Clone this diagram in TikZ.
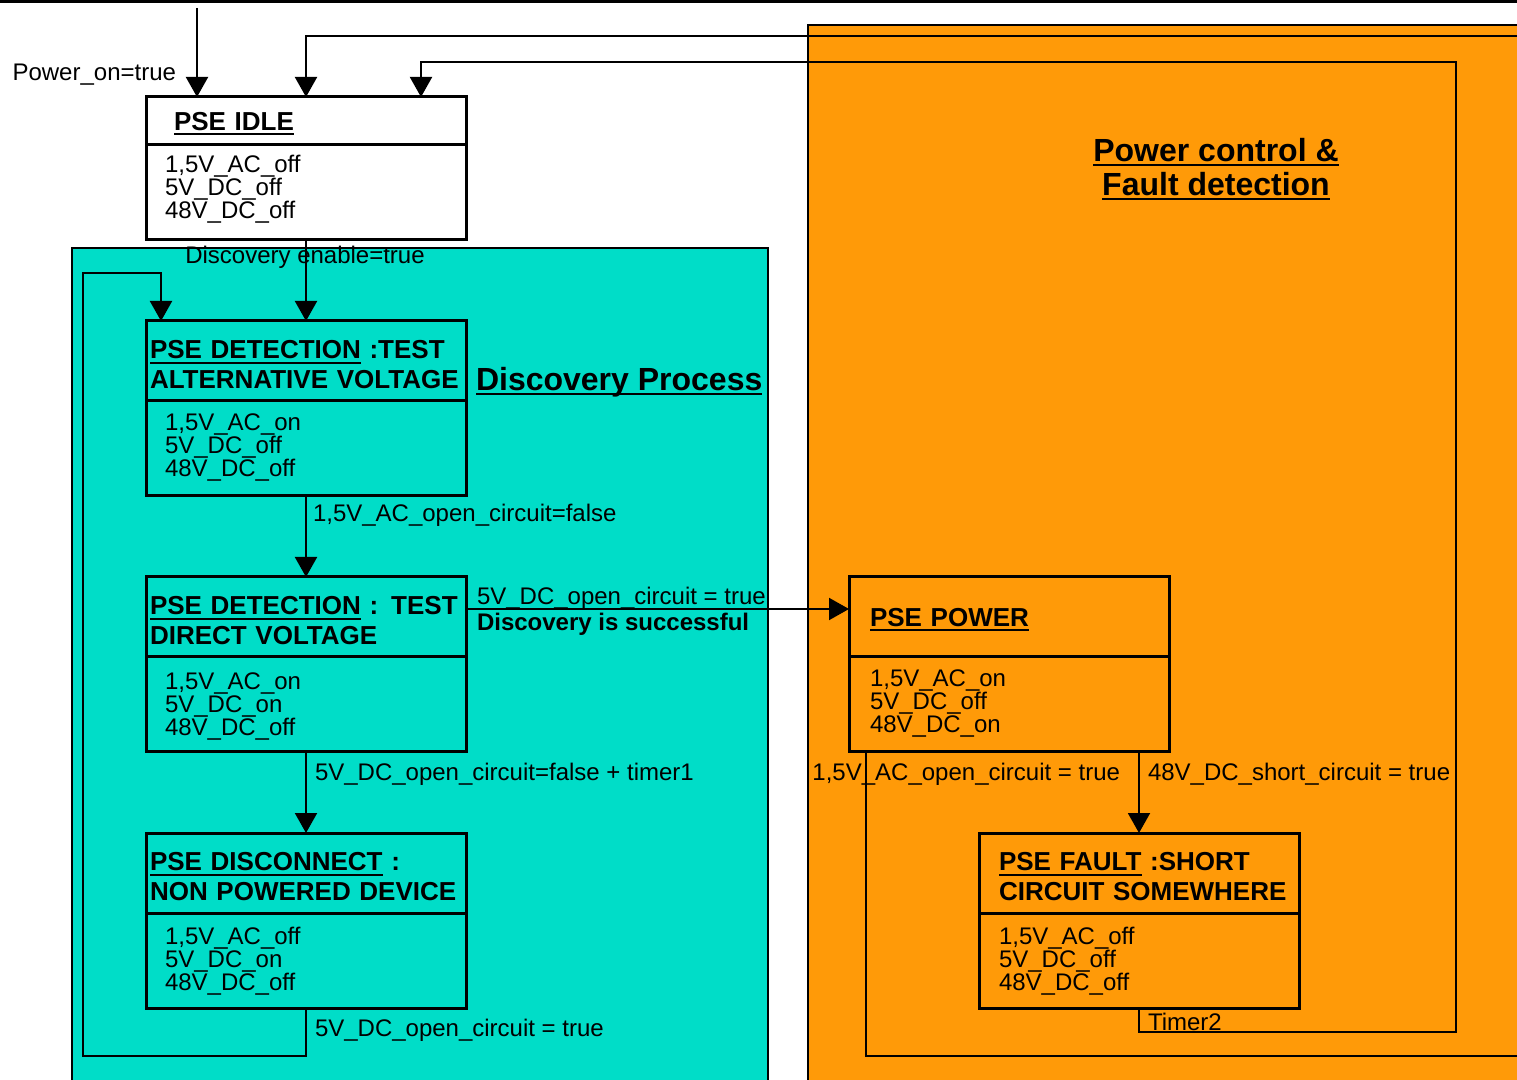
\documentclass[tikz,border=0pt]{standalone}
\usepackage{fontspec}
\setmainfont{Liberation Sans}
\usetikzlibrary{arrows.meta,positioning,calc}
\definecolor{discov}{RGB}{0,221,200}
\definecolor{powctl}{RGB}{255,154,8}
\newsavebox{\ulbox}
\newcommand{\ulin}[1]{\sbox{\ulbox}{#1}\rlap{\rule[-2.3pt]{\wd\ulbox}{0.9pt}}\usebox{\ulbox}}
\begin{document}
\begin{tikzpicture}[x=0.5pt, y=-0.5pt, line width=1pt, >={Triangle[length=10pt,width=11pt]}]
	\tikzset{
		head/.style={draw, rectangle, line width=1.5pt, outer sep=0pt, minimum width=160pt, minimum height=40pt, inner xsep=2pt, text width=156pt, align=left, font=\fontsize{13}{15}\selectfont\bfseries, execute at end node={\vspace{#1}}},
		head/.default=-4pt,
		body/.style={draw, rectangle, line width=1.5pt, outer sep=0pt, minimum width=160pt, minimum height=47.5pt, inner xsep=9.5pt, text width=141pt, align=left, font=\fontsize{12}{11.5}\selectfont, execute at end node={\vspace{#1}}},
		body/.default=4pt,
		lbl/.style={inner sep=0pt, font=\fontsize{12}{14}\selectfont},
		heading/.style={inner sep=0pt, align=center, font=\fontsize{16}{17}\selectfont\bfseries}
	}
	\useasboundingbox (0,0) rectangle (1517,1080);
	% the two areas
	\begin{scope}
		\clip (0,0) rectangle (1517,1080);
		\filldraw[fill=powctl, line width=0.8pt] (808,25) rectangle (1530,1095);
		\filldraw[fill=discov, line width=0.8pt] (72,248) rectangle (768,1095);
	\end{scope}
	\draw[line width=1.2pt] (0,1.5)--(1517,1.5);
	\node[heading] (pctl) at (1216,169) {\ulin{Power control \&}\\\ulin{Fault detection}};
	\node[heading, anchor=west] (dproc) at (475,382) {\ulin{Discovery Process}};
	% states
	\node[head, anchor=north west, inner xsep=14pt, text width=132pt, minimum height=24pt] (idle) at (146,97) {\ulin{PSE IDLE}};
	\node[body=3pt, anchor=north] (idleb) at (idle.south) {1,5V\_AC\_off\\5V\_DC\_off\\48V\_DC\_off};
	\node[head, anchor=north west] (det1) at (146,321) {\ulin{PSE DETECTION} :TEST\\\mbox{ALTERNATIVE VOLTAGE}};
	\node[body=1pt, anchor=north] (det1b) at (det1.south) {1,5V\_AC\_on\\5V\_DC\_off\\48V\_DC\_off};
	\node[head, anchor=north west] (det2) at (146,577) {\ulin{PSE DETECTION} : TEST\\DIRECT VOLTAGE};
	\node[body=-2pt, anchor=north] (det2b) at (det2.south) {1,5V\_AC\_on\\5V\_DC\_on\\48V\_DC\_off};
	\node[head, anchor=north west] (disc) at (146,833) {\ulin{PSE DISCONNECT} :\\\mbox{NON POWERED DEVICE}};
	\node[body=-1pt, anchor=north] (discb) at (disc.south) {1,5V\_AC\_off\\5V\_DC\_on\\48V\_DC\_off};
	\node[head=-7pt, anchor=north west, inner xsep=10.5pt, text width=139pt] (pow) at (849,577) {\ulin{PSE POWER}};
	\node[body=1pt, anchor=north, inner xsep=10.5pt, text width=139pt] (powb) at (pow.south) {1,5V\_AC\_on\\5V\_DC\_off\\48V\_DC\_on};
	\node[head, anchor=north west, inner xsep=10pt, text width=140pt] (fault) at (979,833) {\ulin{PSE FAULT} :SHORT\\\mbox{CIRCUIT SOMEWHERE}};
	\node[body=-1pt, anchor=north, inner xsep=10pt, text width=140pt] (faultb) at (fault.south) {1,5V\_AC\_off\\5V\_DC\_off\\48V\_DC\_off};
	% transitions
	\coordinate (pwr) at (197,8);
	\draw[->] (pwr)--(pwr |- idle.north);
	\node[lbl, anchor=east] (pwrlbl) at (177,75) {Power\_on=true};
	\coordinate (ret1) at (1517,36);
	\draw[->] (ret1) -| (idle.north);
	\coordinate (t2a) at (1456,1032);
	\coordinate (t2b) at (1456,62);
	\coordinate (t2c) at (421,62);
	\draw[->] (faultb.south) |- (t2a)--(t2b)--(t2c)--(t2c |- idle.north);
	\node[lbl, anchor=west] (t2lbl) at (1147,1022) {Timer2};
	\coordinate (ret2) at (1517,1056);
	\coordinate (acoc) at (866,1056);
	\draw (acoc |- powb.south) |- (ret2);
	\node[lbl, anchor=east] (acoclbl) at (1121,774) {1,5V\_AC\_open\_circuit = true};
	\draw[->] (idleb.south)--(det1.north);
	\node[lbl] (enlbl) at (305,257) {Discovery enable=true};
	\coordinate (lp1) at (83,1056);
	\coordinate (lp2) at (161,273);
	\draw[->] (discb.south) |- (lp1) |- (lp2)--(lp2 |- det1.north);
	\node[lbl, anchor=west] (lplbl) at (314,1030) {5V\_DC\_open\_circuit = true};
	\draw[->] (det1b.south)--(det2.north);
	\node[lbl, anchor=west] (aclbl) at (312,515) {1,5V\_AC\_open\_circuit=false};
	\draw[->] ([yshift=4pt]det2.east)--([yshift=4pt]pow.west);
	\node[lbl, anchor=west] (oklbl) at (476,598) {5V\_DC\_open\_circuit = true};
	\node[lbl, anchor=west, font=\fontsize{12}{14}\selectfont\bfseries] (oklblb) at (476,624) {Discovery is successful};
	\draw[->] (det2b.south)--(disc.north);
	\node[lbl, anchor=west] (dclbl) at (314,774) {5V\_DC\_open\_circuit=false + timer1};
	\draw[->] (powb.south -| fault.north)--(fault.north);
	\node[lbl, anchor=west] (sclbl) at (1147,774) {48V\_DC\_short\_circuit = true};
\end{tikzpicture}
\end{document}
